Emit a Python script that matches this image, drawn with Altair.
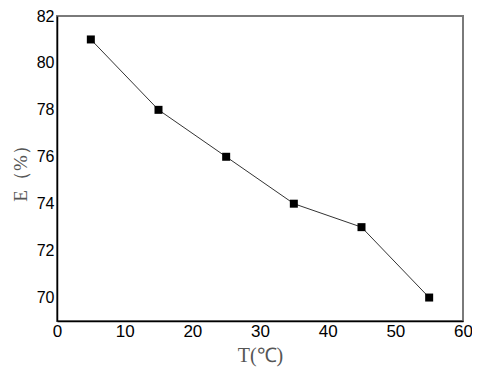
import altair as alt
import pandas as pd

T = [5, 15, 25, 35, 45, 55]
E = [81, 78, 76, 74, 73, 70]
x_ticks = [0, 10, 20, 30, 40, 50, 60]
y_ticks = [70, 72, 74, 76, 78, 80, 82]

df = pd.DataFrame({"T": T, "E": E})

x = alt.X("T:Q", scale=alt.Scale(domain=[0, 60], nice=False),
          axis=alt.Axis(values=x_ticks, title="T(℃)", grid=False, ticks=False,
                        domainColor="black", domainWidth=1.5,
                        labelFont="Liberation Sans", labelFontSize=17, labelColor="black",
                        labelPadding=2, labelFlush=False,
                        titleFont="Liberation Serif", titleFontSize=20, titleColor="#555555",
                        titleFontWeight="normal", titlePadding=6))
y = alt.Y("E:Q", scale=alt.Scale(domain=[69, 82], nice=False, zero=False),
          axis=alt.Axis(values=y_ticks, title="E（%）", grid=False, ticks=False,
                        domainColor="black", domainWidth=1.5,
                        labelFont="Liberation Sans", labelFontSize=16, labelColor="black",
                        labelPadding=3, labelFlush=False,
                        titleFont="Liberation Serif", titleFontSize=19, titleColor="#555555",
                        titleFontWeight="normal", titlePadding=6))

line = alt.Chart(df).mark_line(color="#333333", strokeWidth=1).encode(x=x, y=y)
pts = alt.Chart(df).mark_square(color="black", size=64, opacity=1).encode(x=x, y=y)

chart = (line + pts).properties(
    width=406, height=305,
    autosize=alt.AutoSizeParams(type="none"),
    padding={"left": 49, "top": 8, "right": 9, "bottom": 47},
    background="white",
).configure_view(stroke="#7a7a7a", strokeWidth=2)

chart.save("out.html", embed_options={"renderer": "svg", "actions": False})
